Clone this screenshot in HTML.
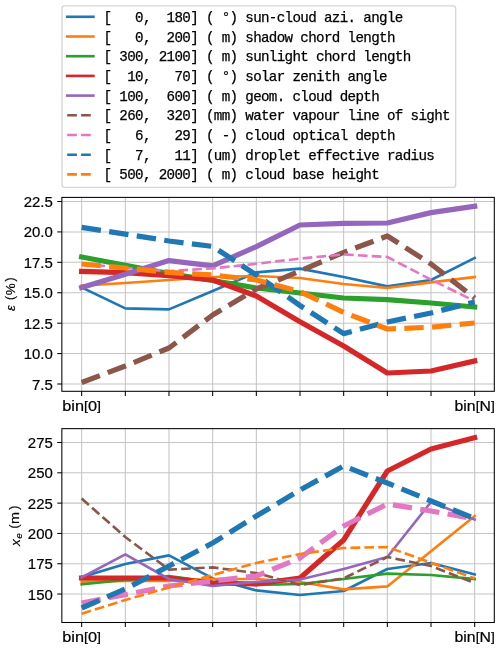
<!DOCTYPE html>
<html><head><meta charset="utf-8"><style>
html,body{margin:0;padding:0;background:#fff;}
body{width:500px;height:649px;overflow:hidden;font-family:"Liberation Sans",sans-serif;}
svg{display:block;will-change:transform;}
</style></head><body>
<svg width="500" height="649" viewBox="0 0 500 649">
<defs><clipPath id="ct"><rect x="61.85" y="197.4" width="432.45" height="193.9"/></clipPath><clipPath id="cb"><rect x="61.85" y="428.65" width="432.45" height="193.85"/></clipPath></defs>
<rect width="500" height="649" fill="#fff"/>
<line x1="81.65" y1="197.4" x2="81.65" y2="391.3" stroke="#c4c4c4" stroke-width="1.046"/>
<line x1="125.32" y1="197.4" x2="125.32" y2="391.3" stroke="#c4c4c4" stroke-width="1.046"/>
<line x1="168.99" y1="197.4" x2="168.99" y2="391.3" stroke="#c4c4c4" stroke-width="1.046"/>
<line x1="212.66" y1="197.4" x2="212.66" y2="391.3" stroke="#c4c4c4" stroke-width="1.046"/>
<line x1="256.33" y1="197.4" x2="256.33" y2="391.3" stroke="#c4c4c4" stroke-width="1.046"/>
<line x1="300" y1="197.4" x2="300" y2="391.3" stroke="#c4c4c4" stroke-width="1.046"/>
<line x1="343.67" y1="197.4" x2="343.67" y2="391.3" stroke="#c4c4c4" stroke-width="1.046"/>
<line x1="387.34" y1="197.4" x2="387.34" y2="391.3" stroke="#c4c4c4" stroke-width="1.046"/>
<line x1="431.01" y1="197.4" x2="431.01" y2="391.3" stroke="#c4c4c4" stroke-width="1.046"/>
<line x1="474.68" y1="197.4" x2="474.68" y2="391.3" stroke="#c4c4c4" stroke-width="1.046"/>
<line x1="61.85" y1="201.5" x2="494.3" y2="201.5" stroke="#c4c4c4" stroke-width="1.046"/>
<line x1="61.85" y1="231.92" x2="494.3" y2="231.92" stroke="#c4c4c4" stroke-width="1.046"/>
<line x1="61.85" y1="262.33" x2="494.3" y2="262.33" stroke="#c4c4c4" stroke-width="1.046"/>
<line x1="61.85" y1="292.75" x2="494.3" y2="292.75" stroke="#c4c4c4" stroke-width="1.046"/>
<line x1="61.85" y1="323.17" x2="494.3" y2="323.17" stroke="#c4c4c4" stroke-width="1.046"/>
<line x1="61.85" y1="353.59" x2="494.3" y2="353.59" stroke="#c4c4c4" stroke-width="1.046"/>
<line x1="61.85" y1="384" x2="494.3" y2="384" stroke="#c4c4c4" stroke-width="1.046"/>
<g clip-path="url(#ct)">
<polyline points="81.65,287.5 125.32,308.4 168.99,309.4 212.66,291 256.33,272.4 300,268.6 343.67,277 387.34,286.4 431.01,280 474.68,258" fill="none" stroke="#1f77b4" stroke-width="2.62" stroke-linejoin="round" stroke-linecap="square"/>
<polyline points="81.65,285.6 125.32,283 168.99,280 212.66,277 256.33,276 300,278 343.67,284 387.34,288 431.01,282.4 474.68,277" fill="none" stroke="#ff7f0e" stroke-width="2.62" stroke-linejoin="round" stroke-linecap="square"/>
<polyline points="81.65,257 125.32,265.2 168.99,273.5 212.66,280.5 256.33,288 300,293 343.67,298 387.34,299.6 431.01,303 474.68,307" fill="none" stroke="#2ca02c" stroke-width="5.23" stroke-linejoin="round" stroke-linecap="square"/>
<polyline points="81.65,271.4 125.32,272.7 168.99,275.6 212.66,280 256.33,296 300,321.8 343.67,346 387.34,373 431.01,371 474.68,361" fill="none" stroke="#d62728" stroke-width="5.23" stroke-linejoin="round" stroke-linecap="square"/>
<polyline points="81.65,287.4 125.32,274.2 168.99,260.6 212.66,265.8 256.33,246.6 300,225 343.67,223.4 387.34,223 431.01,212.6 474.68,206.2" fill="none" stroke="#9467bd" stroke-width="5.23" stroke-linejoin="round" stroke-linecap="square"/>
<polyline points="81.65,382.5 125.32,366 168.99,348 212.66,315 256.33,289 300,271 343.67,252.4 387.34,236 431.01,264 474.68,298" fill="none" stroke="#8c564b" stroke-width="5.23" stroke-linejoin="round" stroke-dasharray="19.46 8.41" stroke-linecap="butt"/>
<polyline points="81.65,263.8 125.32,268 168.99,271 212.66,268.4 256.33,263.8 300,258.6 343.67,254.4 387.34,257 431.01,279.6 474.68,301" fill="none" stroke="#e377c2" stroke-width="2.62" stroke-linejoin="round" stroke-dasharray="9.68 4.19" stroke-linecap="butt"/>
<polyline points="81.65,227.4 125.32,234.1 168.99,241 212.66,246.4 256.33,275 300,305.5 343.67,333.6 387.34,322 431.01,313 474.68,302" fill="none" stroke="#1f77b4" stroke-width="5.23" stroke-linejoin="round" stroke-dasharray="19.46 8.41" stroke-linecap="butt"/>
<polyline points="81.65,264 125.32,268 168.99,272.4 212.66,275 256.33,280 300,291.5 343.67,312.4 387.34,329 431.01,327.2 474.68,323" fill="none" stroke="#ff7f0e" stroke-width="5.23" stroke-linejoin="round" stroke-dasharray="19.36 8.37" stroke-linecap="butt"/>
</g>
<rect x="61.85" y="197.4" width="432.45" height="193.9" fill="none" stroke="#000" stroke-width="1.046"/>
<line x1="81.65" y1="391.3" x2="81.65" y2="395.88" stroke="#000" stroke-width="1.046"/>
<line x1="125.32" y1="391.3" x2="125.32" y2="395.88" stroke="#000" stroke-width="1.046"/>
<line x1="168.99" y1="391.3" x2="168.99" y2="395.88" stroke="#000" stroke-width="1.046"/>
<line x1="212.66" y1="391.3" x2="212.66" y2="395.88" stroke="#000" stroke-width="1.046"/>
<line x1="256.33" y1="391.3" x2="256.33" y2="395.88" stroke="#000" stroke-width="1.046"/>
<line x1="300" y1="391.3" x2="300" y2="395.88" stroke="#000" stroke-width="1.046"/>
<line x1="343.67" y1="391.3" x2="343.67" y2="395.88" stroke="#000" stroke-width="1.046"/>
<line x1="387.34" y1="391.3" x2="387.34" y2="395.88" stroke="#000" stroke-width="1.046"/>
<line x1="431.01" y1="391.3" x2="431.01" y2="395.88" stroke="#000" stroke-width="1.046"/>
<line x1="474.68" y1="391.3" x2="474.68" y2="395.88" stroke="#000" stroke-width="1.046"/>
<line x1="57.27" y1="201.5" x2="61.85" y2="201.5" stroke="#000" stroke-width="1.046"/>
<line x1="57.27" y1="231.92" x2="61.85" y2="231.92" stroke="#000" stroke-width="1.046"/>
<line x1="57.27" y1="262.33" x2="61.85" y2="262.33" stroke="#000" stroke-width="1.046"/>
<line x1="57.27" y1="292.75" x2="61.85" y2="292.75" stroke="#000" stroke-width="1.046"/>
<line x1="57.27" y1="323.17" x2="61.85" y2="323.17" stroke="#000" stroke-width="1.046"/>
<line x1="57.27" y1="353.59" x2="61.85" y2="353.59" stroke="#000" stroke-width="1.046"/>
<line x1="57.27" y1="384" x2="61.85" y2="384" stroke="#000" stroke-width="1.046"/>
<line x1="81.65" y1="428.65" x2="81.65" y2="622.5" stroke="#c4c4c4" stroke-width="1.046"/>
<line x1="125.32" y1="428.65" x2="125.32" y2="622.5" stroke="#c4c4c4" stroke-width="1.046"/>
<line x1="168.99" y1="428.65" x2="168.99" y2="622.5" stroke="#c4c4c4" stroke-width="1.046"/>
<line x1="212.66" y1="428.65" x2="212.66" y2="622.5" stroke="#c4c4c4" stroke-width="1.046"/>
<line x1="256.33" y1="428.65" x2="256.33" y2="622.5" stroke="#c4c4c4" stroke-width="1.046"/>
<line x1="300" y1="428.65" x2="300" y2="622.5" stroke="#c4c4c4" stroke-width="1.046"/>
<line x1="343.67" y1="428.65" x2="343.67" y2="622.5" stroke="#c4c4c4" stroke-width="1.046"/>
<line x1="387.34" y1="428.65" x2="387.34" y2="622.5" stroke="#c4c4c4" stroke-width="1.046"/>
<line x1="431.01" y1="428.65" x2="431.01" y2="622.5" stroke="#c4c4c4" stroke-width="1.046"/>
<line x1="474.68" y1="428.65" x2="474.68" y2="622.5" stroke="#c4c4c4" stroke-width="1.046"/>
<line x1="61.85" y1="442.5" x2="494.3" y2="442.5" stroke="#c4c4c4" stroke-width="1.046"/>
<line x1="61.85" y1="472.81" x2="494.3" y2="472.81" stroke="#c4c4c4" stroke-width="1.046"/>
<line x1="61.85" y1="503.12" x2="494.3" y2="503.12" stroke="#c4c4c4" stroke-width="1.046"/>
<line x1="61.85" y1="533.43" x2="494.3" y2="533.43" stroke="#c4c4c4" stroke-width="1.046"/>
<line x1="61.85" y1="563.74" x2="494.3" y2="563.74" stroke="#c4c4c4" stroke-width="1.046"/>
<line x1="61.85" y1="594.05" x2="494.3" y2="594.05" stroke="#c4c4c4" stroke-width="1.046"/>
<g clip-path="url(#cb)">
<polyline points="81.65,577 125.32,564 168.99,555.4 212.66,578.4 256.33,590.4 300,595 343.67,591 387.34,569 431.01,563 474.68,574.4" fill="none" stroke="#1f77b4" stroke-width="2.62" stroke-linejoin="round" stroke-linecap="square"/>
<polyline points="81.65,581.6 125.32,581 168.99,581 212.66,579 256.33,579 300,582 343.67,589.4 387.34,586.4 431.01,551.2 474.68,516" fill="none" stroke="#ff7f0e" stroke-width="2.62" stroke-linejoin="round" stroke-linecap="square"/>
<polyline points="81.65,584.4 125.32,580 168.99,576 212.66,582 256.33,585 300,584 343.67,579 387.34,573.6 431.01,575 474.68,579" fill="none" stroke="#2ca02c" stroke-width="2.62" stroke-linejoin="round" stroke-linecap="square"/>
<polyline points="81.65,578 125.32,578 168.99,578 212.66,583 256.33,584 300,578 343.67,540 387.34,471 431.01,449 474.68,437.6" fill="none" stroke="#d62728" stroke-width="5.23" stroke-linejoin="round" stroke-linecap="square"/>
<polyline points="81.65,577.4 125.32,554.4 168.99,579 212.66,586 256.33,582 300,579.6 343.67,569 387.34,557 431.01,502 474.68,519.6" fill="none" stroke="#9467bd" stroke-width="2.62" stroke-linejoin="round" stroke-linecap="square"/>
<polyline points="81.65,498.6 125.32,537 168.99,569.6 212.66,567.4 256.33,573 300,585 343.67,578.4 387.34,557 431.01,566 474.68,583" fill="none" stroke="#8c564b" stroke-width="2.62" stroke-linejoin="round" stroke-dasharray="9.68 4.19" stroke-linecap="butt"/>
<polyline points="81.65,603 125.32,594.6 168.99,586 212.66,581 256.33,576 300,558 343.67,526 387.34,504 431.01,511 474.68,519" fill="none" stroke="#e377c2" stroke-width="5.23" stroke-linejoin="round" stroke-dasharray="19.36 8.37" stroke-linecap="butt"/>
<polyline points="81.65,608 125.32,589 168.99,566 212.66,543 256.33,516 300,490 343.67,466 387.34,483 431.01,501 474.68,518.5" fill="none" stroke="#1f77b4" stroke-width="5.23" stroke-linejoin="round" stroke-dasharray="19.36 8.37" stroke-linecap="butt"/>
<polyline points="81.65,613.7 125.32,600 168.99,587.5 212.66,575 256.33,563 300,554 343.67,548 387.34,547 431.01,562.7 474.68,578.4" fill="none" stroke="#ff7f0e" stroke-width="2.62" stroke-linejoin="round" stroke-dasharray="9.68 4.19" stroke-linecap="butt"/>
</g>
<rect x="61.85" y="428.65" width="432.45" height="193.85" fill="none" stroke="#000" stroke-width="1.046"/>
<line x1="81.65" y1="622.5" x2="81.65" y2="627.08" stroke="#000" stroke-width="1.046"/>
<line x1="125.32" y1="622.5" x2="125.32" y2="627.08" stroke="#000" stroke-width="1.046"/>
<line x1="168.99" y1="622.5" x2="168.99" y2="627.08" stroke="#000" stroke-width="1.046"/>
<line x1="212.66" y1="622.5" x2="212.66" y2="627.08" stroke="#000" stroke-width="1.046"/>
<line x1="256.33" y1="622.5" x2="256.33" y2="627.08" stroke="#000" stroke-width="1.046"/>
<line x1="300" y1="622.5" x2="300" y2="627.08" stroke="#000" stroke-width="1.046"/>
<line x1="343.67" y1="622.5" x2="343.67" y2="627.08" stroke="#000" stroke-width="1.046"/>
<line x1="387.34" y1="622.5" x2="387.34" y2="627.08" stroke="#000" stroke-width="1.046"/>
<line x1="431.01" y1="622.5" x2="431.01" y2="627.08" stroke="#000" stroke-width="1.046"/>
<line x1="474.68" y1="622.5" x2="474.68" y2="627.08" stroke="#000" stroke-width="1.046"/>
<line x1="57.27" y1="442.5" x2="61.85" y2="442.5" stroke="#000" stroke-width="1.046"/>
<line x1="57.27" y1="472.81" x2="61.85" y2="472.81" stroke="#000" stroke-width="1.046"/>
<line x1="57.27" y1="503.12" x2="61.85" y2="503.12" stroke="#000" stroke-width="1.046"/>
<line x1="57.27" y1="533.43" x2="61.85" y2="533.43" stroke="#000" stroke-width="1.046"/>
<line x1="57.27" y1="563.74" x2="61.85" y2="563.74" stroke="#000" stroke-width="1.046"/>
<line x1="57.27" y1="594.05" x2="61.85" y2="594.05" stroke="#000" stroke-width="1.046"/>
<text x="23.72" y="207" font-size="14.4" font-family="Liberation Sans, sans-serif" fill="#000" stroke="#000" stroke-width="0.2" textLength="29.12" lengthAdjust="spacingAndGlyphs">22.5</text>
<text x="23.72" y="237.42" font-size="14.4" font-family="Liberation Sans, sans-serif" fill="#000" stroke="#000" stroke-width="0.2" textLength="29.12" lengthAdjust="spacingAndGlyphs">20.0</text>
<text x="23.72" y="267.83" font-size="14.4" font-family="Liberation Sans, sans-serif" fill="#000" stroke="#000" stroke-width="0.2" textLength="29.12" lengthAdjust="spacingAndGlyphs">17.5</text>
<text x="23.72" y="298.25" font-size="14.4" font-family="Liberation Sans, sans-serif" fill="#000" stroke="#000" stroke-width="0.2" textLength="29.12" lengthAdjust="spacingAndGlyphs">15.0</text>
<text x="23.72" y="328.67" font-size="14.4" font-family="Liberation Sans, sans-serif" fill="#000" stroke="#000" stroke-width="0.2" textLength="29.12" lengthAdjust="spacingAndGlyphs">12.5</text>
<text x="23.72" y="359.09" font-size="14.4" font-family="Liberation Sans, sans-serif" fill="#000" stroke="#000" stroke-width="0.2" textLength="29.12" lengthAdjust="spacingAndGlyphs">10.0</text>
<text x="32.04" y="389.5" font-size="14.4" font-family="Liberation Sans, sans-serif" fill="#000" stroke="#000" stroke-width="0.2" textLength="20.8" lengthAdjust="spacingAndGlyphs">7.5</text>
<text x="27.88" y="448" font-size="14.4" font-family="Liberation Sans, sans-serif" fill="#000" stroke="#000" stroke-width="0.2" textLength="24.96" lengthAdjust="spacingAndGlyphs">275</text>
<text x="27.88" y="478.31" font-size="14.4" font-family="Liberation Sans, sans-serif" fill="#000" stroke="#000" stroke-width="0.2" textLength="24.96" lengthAdjust="spacingAndGlyphs">250</text>
<text x="27.88" y="508.62" font-size="14.4" font-family="Liberation Sans, sans-serif" fill="#000" stroke="#000" stroke-width="0.2" textLength="24.96" lengthAdjust="spacingAndGlyphs">225</text>
<text x="27.88" y="538.93" font-size="14.4" font-family="Liberation Sans, sans-serif" fill="#000" stroke="#000" stroke-width="0.2" textLength="24.96" lengthAdjust="spacingAndGlyphs">200</text>
<text x="27.88" y="569.24" font-size="14.4" font-family="Liberation Sans, sans-serif" fill="#000" stroke="#000" stroke-width="0.2" textLength="24.96" lengthAdjust="spacingAndGlyphs">175</text>
<text x="27.88" y="599.55" font-size="14.4" font-family="Liberation Sans, sans-serif" fill="#000" stroke="#000" stroke-width="0.2" textLength="24.96" lengthAdjust="spacingAndGlyphs">150</text>
<text x="62.27" y="410.5" font-size="14.4" font-family="Liberation Sans, sans-serif" fill="#000" stroke="#000" stroke-width="0.2" textLength="38.76" lengthAdjust="spacingAndGlyphs">bin<tspan font-size="12.5" dy="-0.87">[</tspan><tspan dy="0.87">0</tspan><tspan font-size="12.5" dy="-0.87">]</tspan></text>
<text x="454.57" y="410.5" font-size="14.4" font-family="Liberation Sans, sans-serif" fill="#000" stroke="#000" stroke-width="0.2" textLength="40.22" lengthAdjust="spacingAndGlyphs">bin<tspan font-size="12.5" dy="-0.87">[</tspan><tspan dy="0.87">N</tspan><tspan font-size="12.5" dy="-0.87">]</tspan></text>
<text x="62.27" y="641.7" font-size="14.4" font-family="Liberation Sans, sans-serif" fill="#000" stroke="#000" stroke-width="0.2" textLength="38.76" lengthAdjust="spacingAndGlyphs">bin<tspan font-size="12.5" dy="-0.87">[</tspan><tspan dy="0.87">0</tspan><tspan font-size="12.5" dy="-0.87">]</tspan></text>
<text x="454.57" y="641.7" font-size="14.4" font-family="Liberation Sans, sans-serif" fill="#000" stroke="#000" stroke-width="0.2" textLength="40.22" lengthAdjust="spacingAndGlyphs">bin<tspan font-size="12.5" dy="-0.87">[</tspan><tspan dy="0.87">N</tspan><tspan font-size="12.5" dy="-0.87">]</tspan></text>
<text transform="translate(14.83,311) rotate(-90)" font-size="13" font-family="Liberation Sans, sans-serif" fill="#000" stroke="#000" stroke-width="0.2" font-style="italic">ε</text>
<text transform="translate(14.14,300.06) rotate(-90)" font-size="12.3" font-family="Liberation Sans, sans-serif" fill="#000" stroke="#000" stroke-width="0.2" >(</text>
<text transform="translate(14.8,295.2) rotate(-90)" font-size="13.5" font-family="Liberation Sans, sans-serif" fill="#000" stroke="#000" stroke-width="0.2" >%</text>
<text transform="translate(14.14,281.6) rotate(-90)" font-size="12.3" font-family="Liberation Sans, sans-serif" fill="#000" stroke="#000" stroke-width="0.2" >)</text>
<text transform="translate(19.6,546) rotate(-90)" font-size="13.5" font-family="Liberation Sans, sans-serif" fill="#000" stroke="#000" stroke-width="0.2" font-style="italic">x</text>
<text transform="translate(21.66,538.6) rotate(-90)" font-size="9.3" font-family="Liberation Sans, sans-serif" fill="#000" stroke="#000" stroke-width="0.2" font-style="italic">e</text>
<text transform="translate(18.3,528.4) rotate(-90)" font-size="12.3" font-family="Liberation Sans, sans-serif" fill="#000" stroke="#000" stroke-width="0.2" >(</text>
<text transform="translate(18.7,523.9) rotate(-90)" font-size="13.5" font-family="Liberation Sans, sans-serif" fill="#000" stroke="#000" stroke-width="0.2" textLength="12" lengthAdjust="spacingAndGlyphs">m</text>
<text transform="translate(18.3,509.7) rotate(-90)" font-size="12.3" font-family="Liberation Sans, sans-serif" fill="#000" stroke="#000" stroke-width="0.2" >)</text>
<rect x="61.99" y="5.8" width="393.7" height="181.5" rx="2.6" fill="#fff" stroke="#d6d6d6" stroke-width="1.308"/>
<line x1="67.22" y1="16.8" x2="93.38" y2="16.8" stroke="#1f77b4" stroke-width="2.62" stroke-linecap="square"/>
<text x="103.52 135.01 142.89 166.51 174.38 182.26 190.13 205.88 221.63 229.5 245.25 253.13 261 268.87 276.75 284.62 292.5 300.37 308.25 323.99 331.87 339.74 347.62 363.36 371.24 379.11 386.99 394.86" y="21.8" font-size="14.2" font-family="Liberation Mono, monospace" fill="#000" stroke="#000" stroke-width="0.25">[0,180](°)sun-cloudazi.angle</text>
<line x1="67.22" y1="36.5" x2="93.38" y2="36.5" stroke="#ff7f0e" stroke-width="2.62" stroke-linecap="square"/>
<text x="103.52 135.01 142.89 166.51 174.38 182.26 190.13 205.88 221.63 229.5 245.25 253.13 261 268.87 276.75 284.62 300.37 308.25 316.12 323.99 331.87 347.62 355.49 363.36 371.24 379.11 386.99" y="41.5" font-size="14.2" font-family="Liberation Mono, monospace" fill="#000" stroke="#000" stroke-width="0.25">[0,200](m)shadowchordlength</text>
<line x1="67.22" y1="56.2" x2="93.38" y2="56.2" stroke="#2ca02c" stroke-width="2.62" stroke-linecap="square"/>
<text x="103.52 119.27 127.14 135.01 142.89 158.64 166.51 174.38 182.26 190.13 205.88 221.63 229.5 245.25 253.13 261 268.87 276.75 284.62 292.5 300.37 316.12 323.99 331.87 339.74 347.62 363.36 371.24 379.11 386.99 394.86 402.74" y="61.2" font-size="14.2" font-family="Liberation Mono, monospace" fill="#000" stroke="#000" stroke-width="0.25">[300,2100](m)sunlightchordlength</text>
<line x1="67.22" y1="75.9" x2="93.38" y2="75.9" stroke="#d62728" stroke-width="2.62" stroke-linecap="square"/>
<text x="103.52 127.14 135.01 142.89 174.38 182.26 190.13 205.88 221.63 229.5 245.25 253.13 261 268.87 276.75 292.5 300.37 308.25 316.12 323.99 331.87 347.62 355.49 363.36 371.24 379.11" y="80.9" font-size="14.2" font-family="Liberation Mono, monospace" fill="#000" stroke="#000" stroke-width="0.25">[10,70](°)solarzenithangle</text>
<line x1="67.22" y1="95.6" x2="93.38" y2="95.6" stroke="#9467bd" stroke-width="2.62" stroke-linecap="square"/>
<text x="103.52 119.27 127.14 135.01 142.89 166.51 174.38 182.26 190.13 205.88 221.63 229.5 245.25 253.13 261 268.87 276.75 292.5 300.37 308.25 316.12 323.99 339.74 347.62 355.49 363.36 371.24" y="100.6" font-size="14.2" font-family="Liberation Mono, monospace" fill="#000" stroke="#000" stroke-width="0.25">[100,600](m)geom.clouddepth</text>
<line x1="67.22" y1="115.3" x2="93.38" y2="115.3" stroke="#8c564b" stroke-width="2.62" stroke-dasharray="9.68 4.19"/>
<text x="103.52 119.27 127.14 135.01 142.89 166.51 174.38 182.26 190.13 205.88 213.76 221.63 229.5 245.25 253.13 261 268.87 276.75 292.5 300.37 308.25 316.12 323.99 331.87 347.62 355.49 363.36 371.24 386.99 394.86 410.61 418.48 426.36 434.23 442.11" y="120.3" font-size="14.2" font-family="Liberation Mono, monospace" fill="#000" stroke="#000" stroke-width="0.25">[260,320](mm)watervapourlineofsight</text>
<line x1="67.22" y1="135" x2="93.38" y2="135" stroke="#e377c2" stroke-width="2.62" stroke-dasharray="9.68 4.19"/>
<text x="103.52 135.01 142.89 174.38 182.26 190.13 205.88 221.63 229.5 245.25 253.13 261 268.87 276.75 292.5 300.37 308.25 316.12 323.99 331.87 339.74 355.49 363.36 371.24 379.11 386.99" y="140" font-size="14.2" font-family="Liberation Mono, monospace" fill="#000" stroke="#000" stroke-width="0.25">[6,29](-)cloudopticaldepth</text>
<line x1="67.22" y1="154.7" x2="93.38" y2="154.7" stroke="#1f77b4" stroke-width="2.62" stroke-dasharray="9.68 4.19"/>
<text x="103.52 135.01 142.89 174.38 182.26 190.13 205.88 213.76 221.63 229.5 245.25 253.13 261 268.87 276.75 284.62 292.5 308.25 316.12 323.99 331.87 339.74 347.62 355.49 363.36 371.24 386.99 394.86 402.74 410.61 418.48 426.36" y="159.7" font-size="14.2" font-family="Liberation Mono, monospace" fill="#000" stroke="#000" stroke-width="0.25">[7,11](um)dropleteffectiveradius</text>
<line x1="67.22" y1="174.4" x2="93.38" y2="174.4" stroke="#ff7f0e" stroke-width="2.62" stroke-dasharray="9.68 4.19"/>
<text x="103.52 119.27 127.14 135.01 142.89 158.64 166.51 174.38 182.26 190.13 205.88 221.63 229.5 245.25 253.13 261 268.87 276.75 292.5 300.37 308.25 316.12 331.87 339.74 347.62 355.49 363.36 371.24" y="179.4" font-size="14.2" font-family="Liberation Mono, monospace" fill="#000" stroke="#000" stroke-width="0.25">[500,2000](m)cloudbaseheight</text>
</svg>
</body></html>
